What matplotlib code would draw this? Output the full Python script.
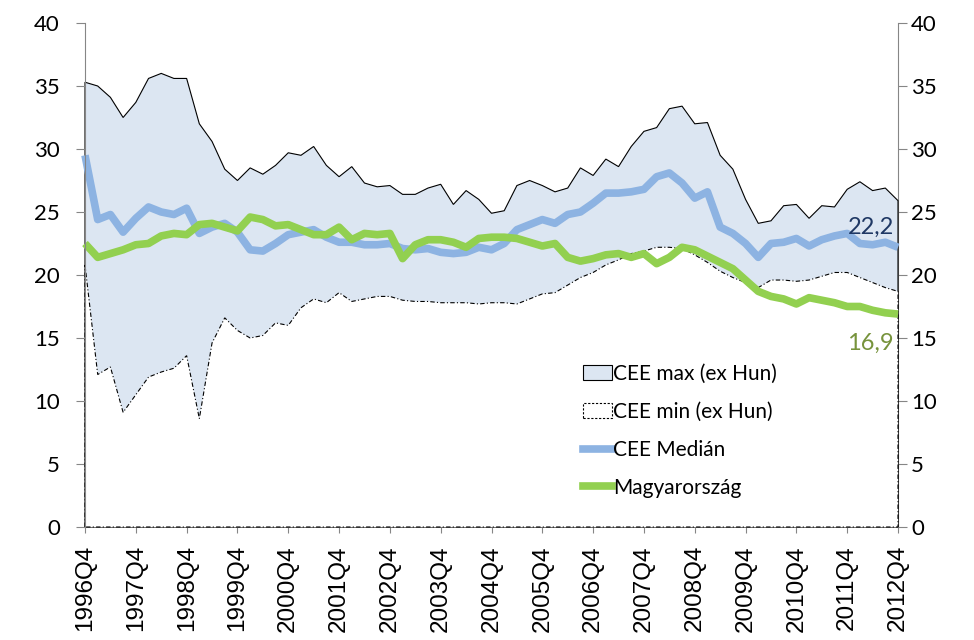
import numpy as np
import matplotlib
matplotlib.use("Agg")
import matplotlib.pyplot as plt
from matplotlib.patches import Patch
from matplotlib.lines import Line2D

# ---- data ----
years = list(range(1996, 2013))
tick_labels = [f"{y}Q4" for y in years]

cee_max = [35.3, 35.0, 34.1, 32.5, 33.7, 35.6, 36.0, 35.6, 35.6, 32.0,
           30.6, 28.4, 27.5, 28.5, 28.0, 28.7, 29.7, 29.5, 30.2, 28.7,
           27.8, 28.6, 27.3, 27.0, 27.1, 26.4, 26.4, 26.9, 27.2, 25.6,
           26.7, 26.0, 24.9, 25.1, 27.1, 27.5, 27.1, 26.6, 26.9, 28.5,
           27.9, 29.2, 28.6, 30.2, 31.4, 31.7, 33.2, 33.4, 32.0, 32.1,
           29.5, 28.4, 26.0, 24.1, 24.3, 25.5, 25.6, 24.5, 25.5, 25.4,
           26.8, 27.4, 26.7, 26.9, 25.9]

cee_min = [20.8, 12.1, 12.7, 9.1, 10.5, 11.9, 12.3, 12.6, 13.6, 8.6,
           14.6, 16.6, 15.6, 15.0, 15.2, 16.2, 16.0, 17.4, 18.1, 17.8,
           18.6, 17.9, 18.1, 18.3, 18.3, 18.0, 17.9, 17.9, 17.8, 17.8,
           17.8, 17.7, 17.8, 17.8, 17.7, 18.1, 18.5, 18.6, 19.2, 19.8,
           20.2, 20.8, 21.2, 21.7, 21.9, 22.2, 22.2, 22.1, 21.6, 21.0,
           20.3, 19.8, 19.4, 19.0, 19.6, 19.6, 19.5, 19.6, 19.9, 20.2,
           20.2, 19.8, 19.4, 19.0, 18.7]

cee_median = [29.5, 24.4, 24.8, 23.4, 24.5, 25.4, 25.0, 24.8, 25.3, 23.3,
              23.8, 24.1, 23.4, 22.0, 21.9, 22.5, 23.2, 23.4, 23.6, 23.0,
              22.6, 22.6, 22.4, 22.4, 22.5, 22.1, 22.0, 22.1, 21.8, 21.7,
              21.8, 22.2, 22.0, 22.5, 23.6, 24.0, 24.4, 24.1, 24.8, 25.0,
              25.7, 26.5, 26.5, 26.6, 26.8, 27.8, 28.1, 27.3, 26.1, 26.6,
              23.8, 23.3, 22.5, 21.4, 22.5, 22.6, 22.9, 22.3, 22.8, 23.1,
              23.3, 22.5, 22.4, 22.6, 22.2]

hungary = [22.5, 21.4, 21.7, 22.0, 22.4, 22.5, 23.1, 23.3, 23.2, 24.0,
           24.1, 23.8, 23.5, 24.6, 24.4, 23.9, 24.0, 23.6, 23.2, 23.2,
           23.8, 22.8, 23.3, 23.2, 23.3, 21.3, 22.4, 22.8, 22.8, 22.6,
           22.2, 22.9, 23.0, 23.0, 22.9, 22.6, 22.3, 22.5, 21.4, 21.1,
           21.3, 21.6, 21.7, 21.4, 21.7, 20.9, 21.4, 22.2, 22.0, 21.5,
           21.0, 20.5, 19.6, 18.7, 18.3, 18.1, 17.7, 18.2, 18.0, 17.8,
           17.5, 17.5, 17.2, 17.0, 16.9]

labels = ["CEE max (ex Hun)", "CEE min (ex Hun)", "CEE Medián", "Magyarország"]
y_ticks = [0, 5, 10, 15, 20, 25, 30, 35, 40]

# ---- styles ----
fill_color = "#dce6f2"
blue = "#8db3e2"
green = "#92d050"
axis_gray = "#868686"
tick_font = "Lato"
xtick_font = "Liberation Sans"

W, H = 974, 640
fig = plt.figure(figsize=(W / 100, H / 100), dpi=100)
rect = [85 / W, 1 - 527 / H, (898 - 85) / W, (527 - 23) / H]
ax2 = fig.add_axes(rect)          # right axis (behind)
ax = fig.add_axes(rect)           # main axis (front)
ax.patch.set_visible(False)

x = np.arange(len(cee_max))
xp = np.r_[x[0], x, x[-1]]

ax.fill(xp, np.r_[0, cee_max, 0], facecolor=fill_color, edgecolor="black",
        linewidth=0.8, clip_on=False, zorder=1)
ax.fill(xp, np.r_[0, cee_min, 0], facecolor="white", edgecolor="black",
        linewidth=0.8, linestyle=(0, (4, 2, 1, 2)), clip_on=False, zorder=2)
ax.plot(x, cee_median, color=blue, lw=5.5, solid_joinstyle="round",
        solid_capstyle="butt", zorder=3, clip_on=False)
ax.plot(x, hungary, color=green, lw=5.5, solid_joinstyle="round",
        solid_capstyle="butt", zorder=4, clip_on=False)

ax.set_xlim(x[0], x[-1])
ax.set_ylim(0, 40)

ax.set_xticks(x[::4])
ax.set_xticklabels(tick_labels, rotation=90, fontfamily=xtick_font, fontsize=17.5)
ax.set_yticks(y_ticks)
ax.set_yticklabels([str(v) for v in y_ticks], fontfamily=tick_font, fontsize=16)

for s in ["top", "bottom", "right"]:
    ax.spines[s].set_visible(False)
ax.spines["left"].set_color(axis_gray)
ax.spines["left"].set_zorder(5)
ax.tick_params(axis="y", direction="out", length=6.5, color=axis_gray, pad=11.5)
ax.tick_params(axis="x", direction="out", length=4.5, color=axis_gray, pad=8.5)

ax2.set_xlim(x[0], x[-1])
ax2.set_ylim(0, 40)
ax2.set_xticks([])
ax2.yaxis.tick_right()
ax2.set_yticks(y_ticks)
ax2.set_yticklabels([str(v) for v in y_ticks], fontfamily=tick_font, fontsize=16)
for s in ["top", "bottom", "left"]:
    ax2.spines[s].set_visible(False)
ax2.spines["right"].set_color(axis_gray)
ax2.tick_params(axis="y", direction="out", length=6.5, color=axis_gray, pad=3)

# end-value annotations
ax.annotate(f"{cee_median[-1]:.1f}".replace(".", ","), xy=(x[-1], cee_median[-1]),
            xytext=(-3, 9.5), textcoords="offset points", ha="right", va="baseline",
            fontfamily=tick_font, fontsize=17, color="#1f3864", zorder=6)
ax.annotate(f"{hungary[-1]:.1f}".replace(".", ","), xy=(x[-1], hungary[-1]),
            xytext=(-3, -26), textcoords="offset points", ha="right", va="baseline",
            fontfamily=tick_font, fontsize=17, color="#77933c", zorder=6)

handles = [
    Patch(facecolor=fill_color, edgecolor="black", linewidth=0.8),
    Patch(facecolor="white", edgecolor="black", linewidth=0.8, linestyle=(0, (2, 1.5))),
    Line2D([], [], color=blue, lw=5.5),
    Line2D([], [], color=green, lw=5.5),
]
leg = ax.legend(handles, labels, loc="upper left",
                bbox_to_anchor=(583 / W, 1 - 364 / H), bbox_transform=fig.transFigure,
                frameon=False, borderpad=0, borderaxespad=0,
                handlelength=1.4, handleheight=0.7, handletextpad=0.05,
                labelspacing=0.86, prop={"family": tick_font, "size": 15})
leg.set_zorder(10)

fig.savefig("out.png", dpi=100)
